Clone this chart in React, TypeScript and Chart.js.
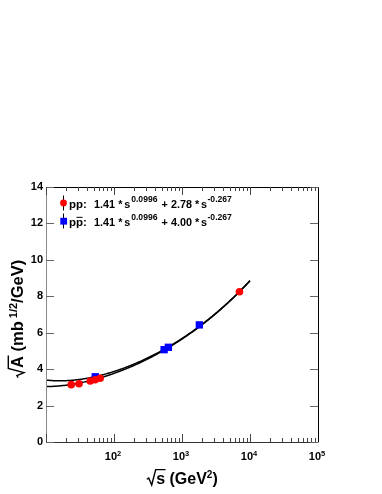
import React, { useEffect, useRef } from "react";
import { Chart, registerables } from "chart.js";

Chart.register(...registerables);

// Data
const ppSqrtS = [23.5, 30.6, 44.7, 52.8, 62.5, 7000];
const ppA = [3.15, 3.2, 3.35, 3.42, 3.5, 8.25];
const ppbarSqrtS = [53, 546, 630, 1800];
const ppbarA = [3.58, 5.07, 5.2, 6.43];

// Fit parameters shown in the legend: a * s^b + c * s^d  (s = (sqrt s)^2)
const ppFit = [1.41, 0.0996, 2.78, -0.267];
const ppbarFit = [1.41, 0.0996, 4.0, -0.267];
const fitRange = [10, 10000];

const yTicks = [0, 2, 4, 6, 8, 10, 12, 14];
const xDecades = [2, 3, 4, 5];

const FONT = "'Liberation Sans', Arial, Helvetica, sans-serif";

function fitCurve(p: number[]) {
  const pts: { x: number; y: number }[] = [];
  const n = 200;
  const l0 = Math.log10(fitRange[0]);
  const l1 = Math.log10(fitRange[1]);
  for (let i = 0; i <= n; i++) {
    const x = Math.pow(10, l0 + ((l1 - l0) * i) / n);
    const s = x * x;
    pts.push({ x, y: p[0] * Math.pow(s, p[1]) + p[2] * Math.pow(s, p[3]) });
  }
  return pts;
}

type Part = { t: string; sup?: boolean; over?: boolean; sqrt?: boolean };

function drawRich(
  ctx: CanvasRenderingContext2D,
  parts: Part[],
  x: number,
  baseline: number,
  size: number,
  supSize: number,
  supRaise: number,
  align: "left" | "center"
) {
  const font = (s: number) => `bold ${s}px ${FONT}`;
  const widths = parts.map((p) => {
    ctx.font = font(p.sup ? supSize : size);
    let w = ctx.measureText(p.t).width;
    if (p.sqrt) w += size * 0.62;
    return w;
  });
  const total = widths.reduce((a, b) => a + b, 0);
  let cx = align === "center" ? x - total / 2 : x;
  ctx.fillStyle = "#000";
  ctx.strokeStyle = "#000";
  ctx.textBaseline = "alphabetic";
  ctx.textAlign = "left";
  parts.forEach((p, i) => {
    if (p.sqrt) {
      const h = size * 0.74;
      const r = size * 0.62;
      ctx.lineWidth = 1.4;
      ctx.beginPath();
      ctx.moveTo(cx + 0.5, baseline - h * 0.4);
      ctx.lineTo(cx + r * 0.25, baseline - h * 0.5);
      ctx.lineTo(cx + r * 0.55, baseline + 1);
      ctx.lineTo(cx + r * 0.95, baseline - h - 2.5);
      ctx.lineTo(cx + widths[i] + 0.5, baseline - h - 2.5);
      ctx.stroke();
      ctx.font = font(size);
      ctx.fillText(p.t, cx + r, baseline);
    } else if (p.sup) {
      ctx.font = font(supSize);
      ctx.fillText(p.t, cx, baseline - supRaise);
    } else {
      ctx.font = font(size);
      ctx.fillText(p.t, cx, baseline);
    }
    if (p.over) {
      ctx.lineWidth = 1;
      ctx.beginPath();
      ctx.moveTo(cx + 0.5, baseline - size * 0.78);
      ctx.lineTo(cx + widths[i] - 0.5, baseline - size * 0.78);
      ctx.stroke();
    }
    cx += widths[i];
  });
  return cx;
}

function txt(ctx: CanvasRenderingContext2D, t: string, x: number, y: number, size: number) {
  ctx.font = `bold ${size}px ${FONT}`;
  ctx.textAlign = "left";
  ctx.textBaseline = "alphabetic";
  ctx.fillStyle = "#000";
  ctx.fillText(t, x, y);
}

const decorPlugin = {
  id: "decor",
  afterDraw(chart: any) {
    const ctx: CanvasRenderingContext2D = chart.ctx;
    const { left, right, top, bottom } = chart.chartArea;
    const xs = chart.scales.x;
    const ys = chart.scales.y;
    ctx.save();

    // frame
    ctx.lineWidth = 1;
    ctx.strokeStyle = "#000";
    ctx.beginPath();
    ctx.moveTo(left, top + 0.5);
    ctx.lineTo(right + 0.5, top + 0.5);
    ctx.lineTo(right + 0.5, bottom);
    ctx.stroke();
    ctx.strokeStyle = "#333";
    ctx.beginPath();
    ctx.moveTo(left, bottom + 0.5);
    ctx.lineTo(right + 0.5, bottom + 0.5);
    ctx.stroke();
    ctx.strokeStyle = "#8a8a8a";
    ctx.beginPath();
    ctx.moveTo(left + 0.5, top);
    ctx.lineTo(left + 0.5, bottom + 1);
    ctx.stroke();

    // y ticks
    ctx.strokeStyle = "#666";
    yTicks.forEach((v) => {
      const py = Math.round(ys.getPixelForValue(v)) + 0.5;
      ctx.beginPath();
      ctx.moveTo(left, py);
      ctx.lineTo(left + 8, py);
      ctx.moveTo(right, py);
      ctx.lineTo(right - 8, py);
      ctx.stroke();
    });

    // x ticks (log)
    ctx.strokeStyle = "#444";
    for (let d = 1; d <= 4; d++) {
      for (let m = 1; m <= 9; m++) {
        const v = m * Math.pow(10, d);
        const px = Math.round(xs.getPixelForValue(v)) + 0.5;
        const len = m === 1 ? 8 : 4;
        ctx.beginPath();
        ctx.moveTo(px, bottom);
        ctx.lineTo(px, bottom - len);
        ctx.moveTo(px, top);
        ctx.lineTo(px, top + len);
        ctx.stroke();
      }
    }

    // y tick labels
    ctx.fillStyle = "#000";
    ctx.font = `bold 11px ${FONT}`;
    ctx.textAlign = "right";
    ctx.textBaseline = "middle";
    yTicks.forEach((v) => {
      ctx.fillText(String(v), left - 3, ys.getPixelForValue(v));
    });

    // x tick labels
    xDecades.forEach((d) => {
      const px = xs.getPixelForValue(Math.pow(10, d));
      drawRich(ctx, [{ t: "10" }, { t: String(d), sup: true }], px - 1, bottom + 18, 11, 7.5, 4.5, "center");
    });

    // axis titles
    drawRich(
      ctx,
      [{ t: "s", sqrt: true }, { t: " (GeV" }, { t: "2", sup: true }, { t: ")" }],
      (left + right) / 2,
      484,
      16,
      10,
      6,
      "center"
    );
    ctx.save();
    ctx.translate(23, 319);
    ctx.rotate(-Math.PI / 2);
    drawRich(
      ctx,
      [{ t: "A", sqrt: true }, { t: " (mb" }, { t: " 1/2", sup: true }, { t: "/GeV)" }],
      0,
      0,
      16.5,
      11,
      6.5,
      "center"
    );
    ctx.restore();

    // legend
    const lx = 63;
    const rows = [
      { y: 203, base: 208, color: "#ff0000", shape: "circle", fit: ppFit, bar: false },
      { y: 221, base: 226.3, color: "#0000ff", shape: "rect", fit: ppbarFit, bar: true },
    ];
    const fs = 10.8;
    const ss = 8.6;
    const raise = 6;
    rows.forEach((r) => {
      ctx.strokeStyle = "#000";
      ctx.lineWidth = 1;
      ctx.beginPath();
      ctx.moveTo(lx + 0.5, r.y - 7.5);
      ctx.lineTo(lx + 0.5, r.y + 7.5);
      ctx.stroke();
      ctx.fillStyle = r.color;
      ctx.beginPath();
      if (r.shape === "circle") ctx.arc(lx + 0.5, r.y, 3.4, 0, Math.PI * 2);
      else ctx.rect(lx - 2.7, r.y - 3.2, 6.8, 6.8);
      ctx.fill();
      const b = r.base;
      if (r.bar) {
        drawRich(ctx, [{ t: "p" }, { t: "p", over: true }, { t: ":" }], 69, b, 11.5, ss, raise, "left");
      } else {
        txt(ctx, "pp:", 69, b, 11.5);
      }
      txt(ctx, r.fit[0].toFixed(2), 94, b, fs);
      txt(ctx, "*", 118.3, b, fs);
      txt(ctx, "s", 124.3, b, fs);
      txt(ctx, String(r.fit[1]), 131.2, b - raise, ss);
      txt(ctx, "+", 161.5, b, fs);
      txt(ctx, r.fit[2].toFixed(2), 171, b, fs);
      txt(ctx, "*", 195, b, fs);
      txt(ctx, "s", 201, b, fs);
      txt(ctx, String(r.fit[3]), 207.5, b - raise, ss);
    });

    ctx.restore();
  },
};

export default function App() {
  const ref = useRef<HTMLCanvasElement>(null);
  useEffect(() => {
    if (!ref.current) return;
    const chart = new Chart(ref.current, {
      type: "scatter",
      data: {
        datasets: [
          {
            label: "pp",
            data: ppSqrtS.map((x, i) => ({ x, y: ppA[i] })),
            pointStyle: "circle",
            pointRadius: 3.8,
            backgroundColor: "#ff0000",
            borderWidth: 0,
            showLine: false,
          },
          {
            label: "ppbar",
            data: ppbarSqrtS.map((x, i) => ({ x, y: ppbarA[i] })),
            pointStyle: "rect",
            pointRadius: 5.2,
            backgroundColor: "#0000ff",
            borderWidth: 0,
            showLine: false,
          },
          {
            label: "pp fit",
            data: fitCurve(ppFit),
            showLine: true,
            pointRadius: 0,
            borderColor: "#000",
            borderWidth: 1.5,
          },
          {
            label: "ppbar fit",
            data: fitCurve(ppbarFit),
            showLine: true,
            pointRadius: 0,
            borderColor: "#000",
            borderWidth: 1.5,
          },
        ],
      },
      options: {
        animation: false,
        responsive: false,
        devicePixelRatio: 1,
        layout: { padding: { left: 0, top: 187, right: 64, bottom: 0 } },
        plugins: { legend: { display: false }, tooltip: { enabled: false } },
        scales: {
          x: {
            type: "logarithmic",
            min: 10,
            max: 100000,
            grid: { display: false, drawTicks: false },
            border: { display: false },
            ticks: { display: false },
            afterFit: (s: any) => {
              s.height = 52;
            },
          },
          y: {
            type: "linear",
            min: 0,
            max: 14,
            grid: { display: false, drawTicks: false },
            border: { display: false },
            ticks: { display: false },
            afterFit: (s: any) => {
              s.width = 46;
            },
          },
        },
      },
      plugins: [decorPlugin],
    });
    return () => chart.destroy();
  }, []);
  return (
    <div style={{ position: "absolute", left: 0, top: 0, width: 382, height: 494, background: "#fff" }}>
      <canvas ref={ref} width={382} height={494} style={{ width: 382, height: 494 }} />
    </div>
  );
}
